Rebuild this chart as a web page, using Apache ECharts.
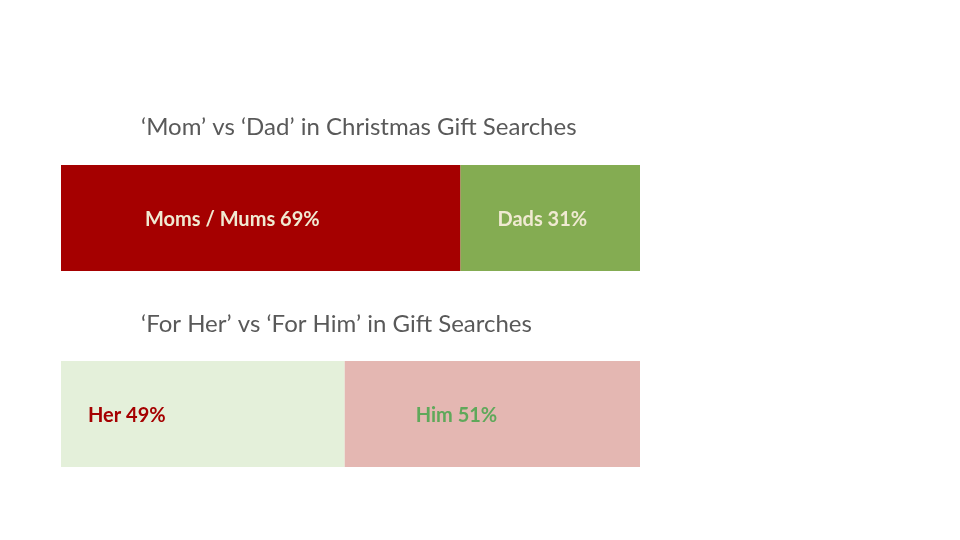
<!DOCTYPE html>
<html>
<head>
<meta charset="utf-8">
<script src="https://cdn.jsdelivr.net/npm/echarts@6/dist/echarts.min.js"></script>
<style>
html,body{margin:0;padding:0;background:#fff;}
#main{width:960px;height:540px;}
</style>
</head>
<body>
<div id="main"></div>
<script>
// chart titles
var titles = ['\u2018Mom\u2019 vs \u2018Dad\u2019 in Christmas Gift Searches',
              '\u2018For Her\u2019 vs \u2018For Him\u2019 in Gift Searches'];
// share of searches, in %
var parentNames = ['Moms / Mums', 'Dads'];
var parentShare = [69, 31];
var genderNames = ['Her', 'Him'];
var genderShare = [49, 51];

var chart = echarts.init(document.getElementById('main'));

function seg(name, val, grid, color, txtColor, dx){
	return {
		name: name,
		type: 'bar',
		stack: 'g' + grid,
		xAxisIndex: grid,
		yAxisIndex: grid,
		barWidth: '100%',
		silent: true,
		itemStyle: {color: color},
		label: {
			show: true,
			position: 'insideLeft',
			distance: 0,
			offset: [dx, 2],
			color: txtColor,
			fontFamily: 'Lato',
			fontWeight: 'bold',
			fontSize: 20,
			formatter: name + ' ' + val + '%'
		},
		data: [val]
	};
}

var option = {
	backgroundColor: '#ffffff',
	animation: false,
	title: [
		{text: titles[0], left: 141, top: 115, padding: 0, textStyle: {fontFamily: 'Lato', fontWeight: 'normal', fontSize: 24, color: '#595959'}},
		{text: titles[1], left: 141, top: 312, padding: 0, textStyle: {fontFamily: 'Lato', fontWeight: 'normal', fontSize: 24, color: '#595959'}}
	],
	grid: [
		{left: 61, top: 165, width: 579, height: 106},
		{left: 61, top: 361, width: 579, height: 106}
	],
	xAxis: [
		{gridIndex: 0, type: 'value', min: 0, max: 100, show: false},
		{gridIndex: 1, type: 'value', min: 0, max: 100, show: false}
	],
	yAxis: [
		{gridIndex: 0, type: 'category', data: ['a'], show: false},
		{gridIndex: 1, type: 'category', data: ['b'], show: false}
	],
	series: [
		seg(parentNames[0], parentShare[0], 0, '#a50000', '#f0ead2', 84),
		seg(parentNames[1], parentShare[1], 0, '#84ac52', '#f0ead2', 37),
		seg(genderNames[0], genderShare[0], 1, '#e4f0da', '#a50000', 27),
		seg(genderNames[1], genderShare[1], 1, '#e4b7b2', '#5fa85a', 71)
	]
};
chart.setOption(option);
</script>
</body>
</html>
